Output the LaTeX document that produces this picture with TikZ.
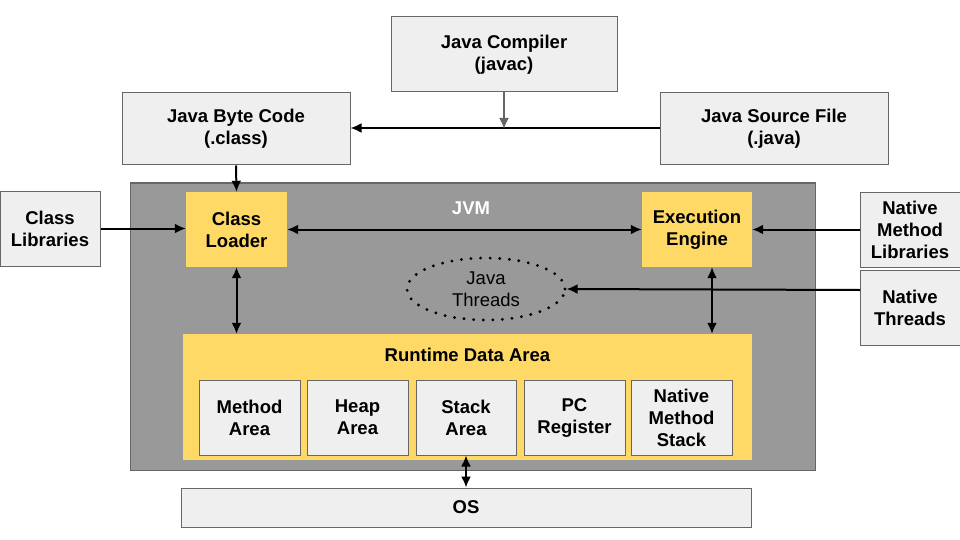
\documentclass[tikz,border=0pt]{standalone}
\usepackage{fontspec}
\setmainfont{Liberation Sans}
\usetikzlibrary{arrows.meta,shapes.geometric}
\definecolor{lgray}{HTML}{EFEFEF}
\definecolor{bgray}{HTML}{666666}
\definecolor{jvmgray}{HTML}{999999}
\definecolor{yell}{HTML}{FFD966}
\begin{document}
\begin{tikzpicture}[x=1pt,y=-1pt,
  gbox/.style={draw=bgray,fill=lgray,line width=1pt,align=center,inner sep=0pt,
     font=\bfseries\fontsize{18.5}{22}\selectfont},
  ybox/.style={fill=yell,draw=none,align=center,inner sep=0pt,
     font=\bfseries\fontsize{18.5}{22}\selectfont},
  arr/.style={line width=2pt,-{Latex[length=11pt,width=10pt]}},
  darr/.style={line width=2pt,{Latex[length=11pt,width=10pt]}-{Latex[length=11pt,width=10pt]}}
]
\useasboundingbox (0,0) rectangle (960,540);
\fill[white] (0,0) rectangle (960,540);
% top
\node[gbox,minimum width=226pt,minimum height=75pt] (comp) at (504,54.5) {Java Compiler\\(javac)};
\node[gbox,minimum width=228pt,minimum height=72pt] (src) at (774,129) {Java Source File\\(.java)};
\node[gbox,minimum width=228pt,minimum height=72pt] (byte) at (236,129) {Java Byte Code\\(.class)};
\coordinate (mid) at (504,128);
\draw[arr] (src.west |- mid) -- (byte.east |- mid);
\draw[line width=2pt,draw=bgray,-{Latex[length=11pt,width=10pt]},color=bgray] (comp.south) -- ([yshift=-1pt]comp.south |- mid);
% JVM
\node[draw=bgray,fill=jvmgray,line width=1pt,minimum width=685pt,minimum height=287pt,inner sep=0pt] (jvm) at (472.5,326.5) {};
\node[font=\bfseries\fontsize{18.5}{20}\selectfont,text=white] (jvml) at (471,208) {JVM};
\node[ybox,minimum width=101pt,minimum height=75pt] (cl) at (236.5,229.5) {Class\\Loader};
\node[ybox,minimum width=110pt,minimum height=75pt] (ee) at (697,229.5) {Execution\\Engine};
\node[gbox,minimum width=100pt,minimum height=75pt] (clib) at (50,228.5) {Class\\Libraries};
\node[gbox,minimum width=100pt,minimum height=75pt] (nml) at (910,229.5) {Native\\Method\\Libraries};
\node[gbox,minimum width=100pt,minimum height=75pt] (nt) at (910,307.5) {Native\\Threads};
\node[ellipse,draw,line width=3.2pt,dash pattern=on 0pt off 9.6pt,line cap=round,minimum width=158pt,minimum height=62pt,inner sep=0pt,align=center,font=\fontsize{18.5}{22}\selectfont] (jt) at (486,289) {Java\\Threads};
% RDA
\node[ybox,minimum width=569pt,minimum height=126pt] (rda) at (467.5,397) {};
\node[font=\bfseries\fontsize{18.5}{20}\selectfont] (rdal) at (467.5,355) {Runtime Data Area};
\node[gbox,minimum width=101pt,minimum height=75pt] (ma) at (249.5,417.5) {Method\\Area};
\node[gbox,minimum width=101pt,minimum height=75pt] (ha) at (357.5,417.5) {Heap\\Area};
\node[gbox,minimum width=100pt,minimum height=75pt] (sa) at (466,417.5) {Stack\\Area};
\node[gbox,minimum width=101pt,minimum height=75pt] (pc) at (574.5,417.5) {PC\\Register};
\node[gbox,minimum width=101pt,minimum height=75pt] (nms) at (681.5,417.5) {Native\\Method\\Stack};
\node[gbox,minimum width=570pt,minimum height=39pt] (os) at (466,507.5) {OS};
% connectors
\draw[arr] (byte.south) -- (cl.north);
\draw[arr] (clib.east) -- (cl.west |- clib.east);
\draw[darr] (cl.east) -- (ee.west);
\draw[arr] (nml.west) -- (ee.east);
\coordinate (ntin) at (860,290);
\draw[arr] (ntin) -- (jt.east);
\coordinate (eex) at (712,0);
\draw[darr] (eex |- ee.south) -- (eex |- rda.north);
\draw[darr] (cl.south) -- (cl.south |- rda.north);
\draw[darr] (sa.south) -- (os.north);
\end{tikzpicture}
\end{document}
